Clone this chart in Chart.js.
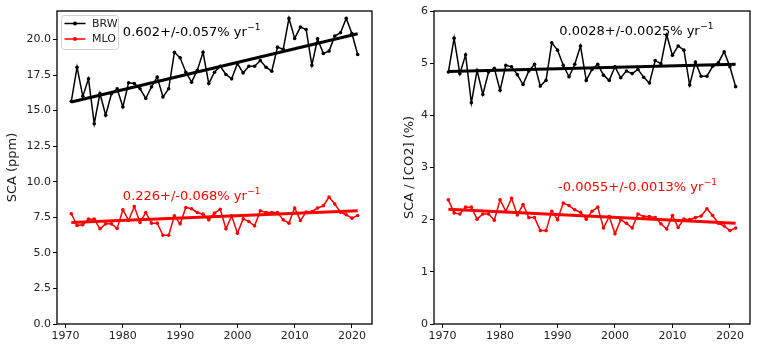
<!DOCTYPE html>
<html>
<head>
<meta charset="utf-8">
<script src="https://cdn.jsdelivr.net/npm/chart.js@4.4.1/dist/chart.umd.min.js"></script>
<style>
  body { margin: 0; background: #fff; }
  #wrap { position: relative; width: 768px; height: 356px; }
  .panel { position: absolute; top: 0; height: 356px; }
</style>
</head>
<body>
<div id="wrap">
  <div class="panel" style="left:0;width:380px"><canvas id="scaChart" width="380" height="356"></canvas></div>
  <div class="panel" style="left:380px;width:388px"><canvas id="ratioChart" width="388" height="356"></canvas></div>
</div>
<script>
// years of the annual cycle amplitude record
const years = [1971, 1972, 1973, 1974, 1975, 1976, 1977, 1978, 1979, 1980,
  1981, 1982, 1983, 1984, 1985, 1986, 1987, 1988, 1989, 1990,
  1991, 1992, 1993, 1994, 1995, 1996, 1997, 1998, 1999, 2000,
  2001, 2002, 2003, 2004, 2005, 2006, 2007, 2008, 2009, 2010,
  2011, 2012, 2013, 2014, 2015, 2016, 2017, 2018, 2019, 2020, 2021];

// seasonal cycle amplitude (ppm)
const brwSca = [15.65, 18.05, 16.0, 17.23, 14.08, 16.2, 14.67, 16.18, 16.53, 15.26,
  16.95, 16.9, 16.53, 15.85, 16.67, 17.35, 15.96, 16.53, 19.1, 18.71,
  17.7, 17.0, 17.84, 19.1, 16.9, 17.7, 18.12, 17.54, 17.23, 18.31,
  17.65, 18.12, 18.12, 18.52, 18.05, 17.77, 19.46, 19.3, 21.48, 20.07,
  20.87, 20.7, 18.19, 20.05, 19.01, 19.18, 20.24, 20.47, 21.48, 20.42, 18.94];
const mloSca = [7.75, 6.93, 6.97, 7.37, 7.37, 6.69, 7.04, 7.04, 6.71, 8.03,
  7.28, 8.26, 7.14, 7.84, 7.09, 7.09, 6.24, 6.24, 7.6, 7.04,
  8.19, 8.1, 7.84, 7.72, 7.32, 7.79, 8.07, 6.69, 7.6, 6.38,
  7.39, 7.2, 6.9, 7.96, 7.84, 7.84, 7.84, 7.32, 7.09, 8.15,
  7.28, 7.86, 7.91, 8.15, 8.31, 8.92, 8.43, 7.86, 7.68, 7.44, 7.63];

// amplitude relative to CO2 (%)
const brwRatio = [4.83, 5.48, 4.80, 5.16, 4.24, 4.86, 4.40, 4.83, 4.90, 4.48,
  4.96, 4.93, 4.78, 4.59, 4.85, 4.98, 4.56, 4.67, 5.39, 5.25,
  4.96, 4.74, 4.98, 5.33, 4.67, 4.88, 4.98, 4.77, 4.67, 4.93,
  4.72, 4.85, 4.80, 4.88, 4.73, 4.62, 5.05, 4.99, 5.54, 5.15,
  5.33, 5.25, 4.58, 5.02, 4.75, 4.75, 4.94, 5.01, 5.22, 4.93, 4.55];
const mloRatio = [2.38, 2.13, 2.11, 2.24, 2.24, 2.01, 2.11, 2.11, 1.99, 2.38,
  2.16, 2.41, 2.09, 2.29, 2.04, 2.04, 1.79, 1.79, 2.16, 2.00,
  2.32, 2.27, 2.19, 2.14, 2.01, 2.16, 2.24, 1.84, 2.06, 1.73,
  2.00, 1.93, 1.84, 2.11, 2.06, 2.06, 2.04, 1.92, 1.82, 2.08,
  1.85, 2.01, 2.00, 2.04, 2.07, 2.21, 2.08, 1.93, 1.88, 1.79, 1.84];

// fitted trend lines, start and end values
const trendYears = [1971, 2021];
const brwScaTrend = [15.6, 20.4];
const mloScaTrend = [7.14, 7.96];
const brwRatioTrend = [4.84, 4.98];
const mloRatioTrend = [2.20, 1.93];

const xTicks = [1970, 1980, 1990, 2000, 2010, 2020];
const scaTicks = [0, 2.5, 5, 7.5, 10, 12.5, 15, 17.5, 20];
const ratioTicks = [0, 1, 2, 3, 4, 5, 6];

const scaNotes = [
  { x: 1980, y: 20.5, text: '0.602+/-0.057% yr', color: 'black' },
  { x: 1980, y: 8.95, text: '0.226+/-0.068% yr', color: 'red' }
];
const ratioNotes = [
  { x: 1990.3, y: 5.61, text: '0.0028+/-0.0025% yr', color: 'black' },
  { x: 1990.1, y: 2.62, text: '-0.0055+/-0.0013% yr', color: 'red' }
];

const FONT = "'DejaVu Sans', sans-serif";
const pts = (ys) => years.map((yr, i) => ({ x: yr, y: ys[i] }));
const trend = (ys) => trendYears.map((yr, i) => ({ x: yr, y: ys[i] }));

function series(label, color, ys) {
  return {
    label: label, data: pts(ys), borderColor: color, backgroundColor: color,
    borderWidth: 1.5, pointRadius: 1.8, pointHoverRadius: 1.8, pointBorderWidth: 0
  };
}
function trendLine(color, ys) {
  return {
    label: '', data: trend(ys), borderColor: color, borderWidth: 3,
    pointRadius: 0, order: -1
  };
}

// frame around the plot area, like matplotlib spines
const frame = {
  id: 'frame',
  afterDatasetsDraw(chart) {
    const a = chart.chartArea, ctx = chart.ctx;
    ctx.save();
    ctx.strokeStyle = 'black';
    ctx.lineWidth = 1.3;
    ctx.strokeRect(a.left, a.top, a.right - a.left, a.bottom - a.top);
    ctx.restore();
  }
};

// rate labels written in data coordinates
const notes = {
  id: 'notes',
  afterDraw(chart, args, opts) {
    const ctx = chart.ctx, xs = chart.scales.x, ys = chart.scales.y;
    ctx.save();
    (opts.items || []).forEach(n => {
      const px = xs.getPixelForValue(n.x), py = ys.getPixelForValue(n.y);
      ctx.fillStyle = n.color;
      ctx.textBaseline = 'middle';
      ctx.font = '13px ' + FONT;
      ctx.fillText(n.text, px, py);
      const w = ctx.measureText(n.text).width;
      ctx.font = '9px ' + FONT;
      ctx.fillText('\u22121', px + w + 0.5, py - 5);
    });
    ctx.restore();
  }
};

// legend box in the upper left of the first panel
const boxLegend = {
  id: 'boxLegend',
  afterDraw(chart, args, opts) {
    if (!opts.show) return;
    const ctx = chart.ctx, a = chart.chartArea;
    const x0 = a.left + 4, y0 = a.top + 4;
    ctx.save();
    ctx.fillStyle = 'rgba(255,255,255,0.85)';
    ctx.strokeStyle = '#d0d0d0';
    ctx.lineWidth = 1;
    ctx.beginPath();
    ctx.roundRect(x0 + 0.5, y0 + 0.5, 57, 34, 3);
    ctx.fill();
    ctx.stroke();
    const entries = chart.data.datasets.filter(d => d.label);
    entries.forEach((d, i) => {
      const y = y0 + 8.5 + i * 15.5;
      ctx.strokeStyle = d.borderColor;
      ctx.lineWidth = 1.5;
      ctx.beginPath();
      ctx.moveTo(x0 + 3.5, y);
      ctx.lineTo(x0 + 24.5, y);
      ctx.stroke();
      ctx.fillStyle = d.borderColor;
      ctx.beginPath();
      ctx.arc(x0 + 14, y, 2, 0, Math.PI * 2);
      ctx.fill();
      ctx.fillStyle = '#222';
      ctx.font = '11px ' + FONT;
      ctx.textBaseline = 'middle';
      ctx.fillText(d.label, x0 + 31, y + 0.5);
    });
    ctx.restore();
  }
};

function makeChart(id, sets, yMax, yTicks, fmt, yTitle, yWidth, titlePad, padRight, noteItems, showLegend) {
  return new Chart(document.getElementById(id), {
    type: 'line',
    data: { datasets: sets },
    plugins: [frame, notes, boxLegend],
    options: {
      responsive: false,
      animation: false,
      layout: { padding: { top: 11, right: padRight, left: 0, bottom: 0 } },
      plugins: {
        legend: { display: false },
        tooltip: { enabled: false },
        notes: { items: noteItems },
        boxLegend: { show: showLegend }
      },
      scales: {
        x: {
          type: 'linear', min: 1968.5, max: 2023.5,
          afterBuildTicks: s => { s.ticks = xTicks.map(v => ({ value: v })); },
          afterFit: s => { s.height = 32; },
          grid: { display: true, drawOnChartArea: false, color: 'black', tickLength: 4, tickWidth: 1 },
          border: { display: false },
          ticks: { color: '#222', font: { family: FONT, size: 11 }, padding: 2, maxRotation: 0,
                   callback: v => String(v) }
        },
        y: {
          min: 0, max: yMax,
          afterBuildTicks: s => { s.ticks = yTicks.map(v => ({ value: v })); },
          afterFit: s => { s.width = yWidth; },
          grid: { display: true, drawOnChartArea: false, color: 'black', tickLength: 4, tickWidth: 1 },
          border: { display: false },
          ticks: { color: '#222', font: { family: FONT, size: 11 }, padding: 2, callback: fmt },
          title: { display: true, text: yTitle, color: '#222', font: { family: FONT, size: 13 },
                   padding: { top: titlePad, bottom: 0 } }
        }
      }
    }
  });
}

makeChart('scaChart',
  [series('BRW', 'black', brwSca), series('MLO', 'red', mloSca),
   trendLine('black', brwScaTrend), trendLine('red', mloScaTrend)],
  22, scaTicks, v => Number(v).toFixed(1), 'SCA (ppm)', 57, 4.5, 8, scaNotes, true);

makeChart('ratioChart',
  [series('BRW', 'black', brwRatio), series('MLO', 'red', mloRatio),
   trendLine('black', brwRatioTrend), trendLine('red', mloRatioTrend)],
  6, ratioTicks, v => String(v), 'SCA / [CO2] (%)', 54, 22, 18, ratioNotes, false);
</script>
</body>
</html>
